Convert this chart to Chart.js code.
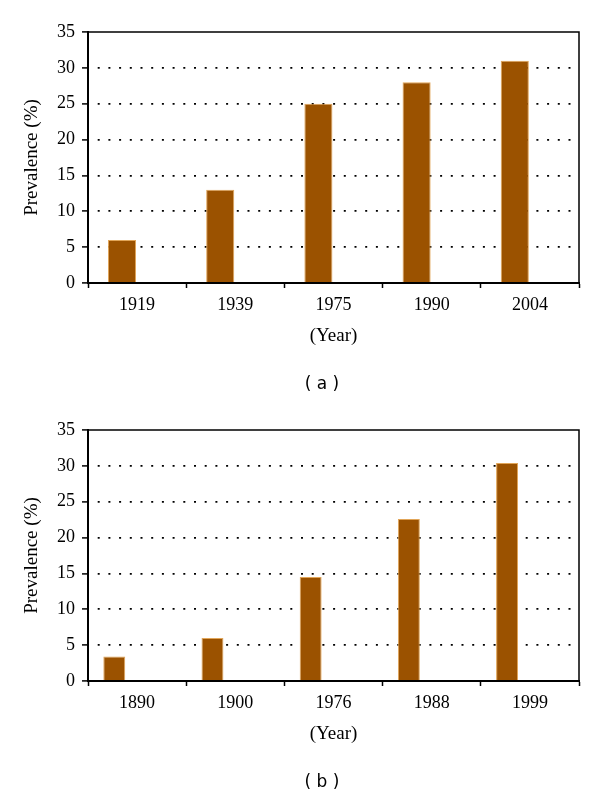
<!DOCTYPE html>
<html lang="en">
<head>
<meta charset="UTF-8">
<title>Prevalence by year</title>
<script src="https://cdn.jsdelivr.net/npm/chart.js"></script>
<style>
  body { margin: 0; background: #fff; }
  .panel { position: relative; width: 600px; height: 398px; }
  .panel canvas { position: absolute; left: 0; top: 0; }
  .tag { position: absolute; top: 373px; left: 282px; width: 80px; text-align: center;
         font: 17px "DejaVu Sans", sans-serif; line-height: 20px; color: #000; white-space: pre; }
</style>
</head>
<body>
<div class="panel">
  <canvas id="chartA" width="600" height="398"></canvas>
  <div class="tag">( a )</div>
</div>
<div class="panel">
  <canvas id="chartB" width="600" height="398"></canvas>
  <div class="tag">( b )</div>
</div>
<script>
// panel (a)
const yearsA = ['1919', '1939', '1975', '1990', '2004'];
const prevalenceA = [6, 13, 25, 28, 31];
// panel (b)
const yearsB = ['1890', '1900', '1976', '1988', '1999'];
const prevalenceB = [3.4, 6, 14.5, 22.6, 30.4];
// y axis
const yMin = 0, yMax = 35, yStep = 5;

const tickFont = { family: '"Liberation Serif", serif', size: 18 };
const titleFont = { family: '"Liberation Serif", serif', size: 19 };

// closes the plot box (top and right edges)
const frame = {
    id: 'frame',
    afterDraw(chart) {
        const a = chart.chartArea, c = chart.ctx;
        c.save();
        c.strokeStyle = '#000';
        c.lineWidth = 1.5;
        c.beginPath();
        c.moveTo(a.left, a.top);
        c.lineTo(a.right, a.top);
        c.lineTo(a.right, a.bottom);
        c.stroke();
        c.restore();
    }
};

function makeChart(id, labels, values, catPct, barPct) {
    new Chart(document.getElementById(id), {
        type: 'bar',
        data: {
            labels: labels,
            datasets: [{
                data: values,
                backgroundColor: '#9b5200',
                borderColor: 'rgba(222,155,70,0.9)',
                borderWidth: 1,
                categoryPercentage: catPct,
                barPercentage: barPct
            }, {
                // empty slot so the bar sits left of the category centre
                data: labels.map(() => null),
                categoryPercentage: catPct,
                barPercentage: barPct
            }]
        },
        options: {
            responsive: false,
            animation: false,
            layout: { padding: { top: 32, right: 21, bottom: 45, left: 0 } },
            plugins: { legend: { display: false }, tooltip: { enabled: false } },
            scales: {
                x: {
                    afterFit: (s) => { s.height = 70; },
                    border: { color: '#000', width: 2 },
                    grid: { drawOnChartArea: false, offset: true, tickLength: 5, tickColor: '#000', tickWidth: 1.5 },
                    ticks: { color: '#000', font: tickFont, padding: 6, maxRotation: 0 },
                    title: { display: true, text: '(Year)', color: '#000', font: titleFont, padding: { top: 0, bottom: 6 } }
                },
                y: {
                    min: yMin, max: yMax,
                    afterFit: (s) => { s.width = 88; },
                    border: { color: '#000', width: 2, dash: [2, 8.7], dashOffset: 2 },
                    grid: {
                        color: (c) => (c.tick && c.tick.value > yMin && c.tick.value < yMax) ? '#000' : 'rgba(0,0,0,0)',
                        lineWidth: 1.8,
                        tickColor: '#000',
                        tickWidth: 1.5,
                        tickLength: 6,
                        tickBorderDash: []
                    },
                    ticks: { stepSize: yStep, color: '#000', font: tickFont, padding: 7 },
                    title: { display: true, text: 'Prevalence (%)', color: '#000', font: titleFont, padding: { top: 21, bottom: 0 } }
                }
            }
        },
        plugins: [frame]
    });
}

makeChart('chartA', yearsA, prevalenceA, 0.615, 0.93);
makeChart('chartB', yearsB, prevalenceB, 0.93, 0.48);
</script>
</body>
</html>
